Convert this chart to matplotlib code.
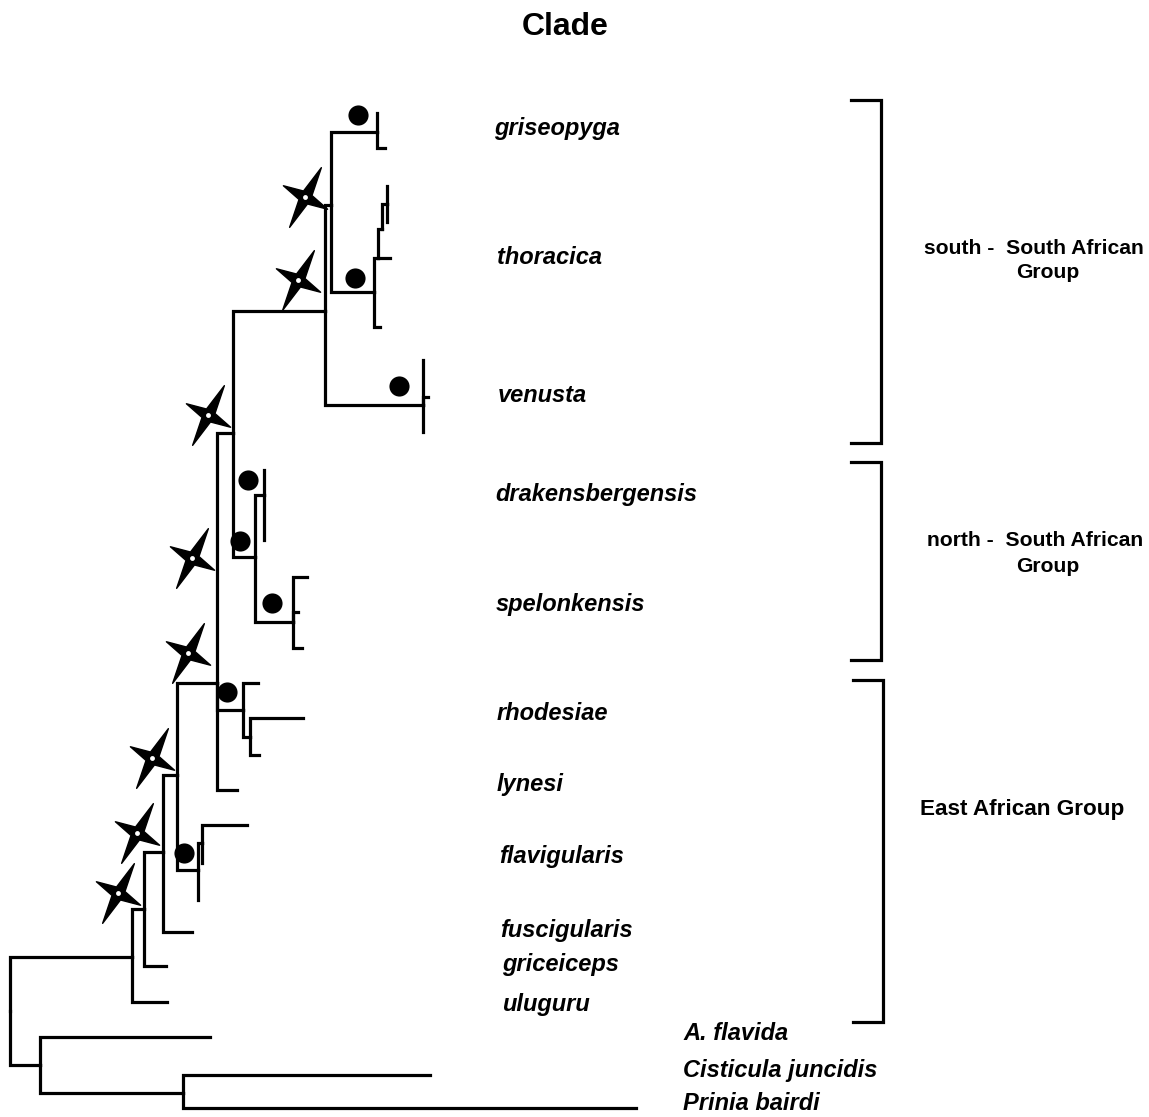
import numpy as np
import matplotlib
matplotlib.use("Agg")
import matplotlib.pyplot as plt
from matplotlib.path import Path

plt.rcParams['font.family'] = ['Liberation Sans', 'DejaVu Sans']

# ---- tree: node name, parent, cumulative depth (x), row position (y) ----
node_names = [
    "root", "ingroup", "uluguru_t", "n_b", "griceiceps_t", "n_c", "fuscigularis_t",
    "n_d", "n_f", "flav_a", "n_g", "flav_b", "flav_c",
    "n_e", "lynesi_t", "n_u", "rho_a", "n_v", "rho_b", "rho_c",
    "n_i", "n_h", "n_s", "drak_a", "drak_b", "n_t", "spel_a", "spel_b", "spel_c",
    "n_j", "n_k", "n_m", "gris_a", "gris_b", "n_n", "thor_a", "n_p", "thor_b",
    "n_q", "n_r", "thor_c", "thor_d", "n_l", "ven_a", "ven_b", "ven_c",
    "outgroup", "flavida_t", "n_cp", "cisticola_t", "prinia_t",
]
node_parent = [
    None, "root", "ingroup", "ingroup", "n_b", "n_b", "n_c",
    "n_c", "n_d", "n_f", "n_f", "n_g", "n_g",
    "n_d", "n_e", "n_e", "n_u", "n_u", "n_v", "n_v",
    "n_e", "n_i", "n_h", "n_s", "n_s", "n_h", "n_t", "n_t", "n_t",
    "n_i", "n_j", "n_k", "n_m", "n_m", "n_k", "n_n", "n_n", "n_p",
    "n_p", "n_q", "n_r", "n_r", "n_j", "n_l", "n_l", "n_l",
    "root", "outgroup", "outgroup", "n_cp", "n_cp",
]
node_x = [
    10, 132, 167, 144, 166, 163, 192,
    177, 198, 198, 202, 247, 202,
    217, 237, 243, 258, 250, 303, 259,
    233, 255, 264, 264, 264, 293, 307, 302, 298,
    325, 331, 377, 377, 385, 374, 380, 378, 390,
    382, 387, 387, 387, 423, 423, 423, 428,
    40, 210, 183, 430, 636,
]
node_y = [
    1011, 957, 1002, 909, 966, 852, 932,
    775, 870, 900, 843, 825, 863,
    683, 790, 710, 683, 737, 718, 755,
    433, 557, 495, 470, 540, 622, 577, 648, 612,
    311, 205, 132, 113, 148, 292, 327, 258, 258,
    229, 204, 186, 222, 405, 360, 432, 397,
    1065, 1037, 1093, 1075, 1108,
]

# support symbols on branches
star_x = [305, 298, 208, 192, 188, 152, 137, 118]
star_y = [197, 280, 415, 558, 653, 758, 833, 893]
dot_x = [358, 355, 399, 248, 240, 272, 227, 184]
dot_y = [115, 278, 386, 480, 541, 603, 692, 853]

# taxon labels
taxa = ["griseopyga", "thoracica", "venusta", "drakensbergensis", "spelonkensis",
        "rhodesiae", "lynesi", "flavigularis", "fuscigularis", "griceiceps",
        "uluguru", "A. flavida", "Cisticula juncidis", "Prinia bairdi"]
taxa_x = [494, 497, 498, 495, 496, 497, 497, 499, 500, 502, 502, 683, 683, 683]
taxa_y = [128, 258, 395, 494, 604, 714, 785, 857, 930, 965, 1004, 1034, 1071, 1104]

# group brackets
group_top = [100, 462, 680]
group_bottom = [443, 660, 1022]
group_x = [881, 881, 883]
group_line1 = ["south -  South African", "north -  South African", "East African Group"]
group_line2 = ["Group", "Group", ""]
group_label_y = [248, 541, 810]
group_label_x = [924, 927, 920]

W, H = 1149, 1117
fig = plt.figure(figsize=(W / 100, H / 100), dpi=100)
ax = fig.add_axes([0, 0, 1, 1])
ax.set_xlim(0, W)
ax.set_ylim(H, 0)
ax.axis("off")

lw = 2.3
pos = {n: (x, y) for n, x, y in zip(node_names, node_x, node_y)}
for n, p in zip(node_names, node_parent):
    if p is None:
        continue
    px, py = pos[p]
    cx, cy = pos[n]
    ax.plot([px, px, cx], [py, cy, cy], color="black", lw=lw,
            solid_joinstyle="miter", solid_capstyle="projecting")

# four-pointed star marker (marker space has y pointing up)
def star_path(rot_deg=62, r_long=1.0, r_short=0.74, r_in=0.2):
    verts = []
    for k in range(4):
        a = np.deg2rad(rot_deg + 90 * k)
        r = r_long if k % 2 == 0 else r_short
        verts.append((r * np.cos(a), r * np.sin(a)))
        b = a + np.deg2rad(45)
        verts.append((r_in * np.cos(b), r_in * np.sin(b)))
    verts.append(verts[0])
    codes = [Path.MOVETO] + [Path.LINETO] * 7 + [Path.CLOSEPOLY]
    return Path(verts, codes)

ax.plot(star_x, star_y, ls="none", marker=star_path(rot_deg=62), ms=43,
        color="black", mec="black", mew=1)
ax.plot(star_x, star_y, ls="none", marker="o", ms=3.5, color="white", mew=0)
ax.plot(dot_x, dot_y, ls="none", marker="o", ms=14.5, color="black", mew=0)

for t, x, y in zip(taxa, taxa_x, taxa_y):
    ax.text(x, y, t, fontsize=17, fontweight="bold", fontstyle="italic",
            ha="left", va="center")

for top, bot, gx, l1, l2, ly, lx in zip(group_top, group_bottom, group_x,
                                         group_line1, group_line2,
                                         group_label_y, group_label_x):
    ax.plot([gx - 30, gx, gx, gx - 30], [top, top, bot, bot], color="black",
            lw=lw, solid_joinstyle="miter")
    fs = 15.2 if l2 else 16.2
    ax.text(lx, ly, l1, fontsize=fs, fontweight="bold", ha="left", va="center")
    if l2:
        ax.text(1048, ly + 25, l2, fontsize=fs, fontweight="bold",
                ha="center", va="center")

ax.text(565, 27, "Clade", fontsize=23, fontweight="bold", ha="center", va="center")

fig.savefig("out.png", dpi=100)
